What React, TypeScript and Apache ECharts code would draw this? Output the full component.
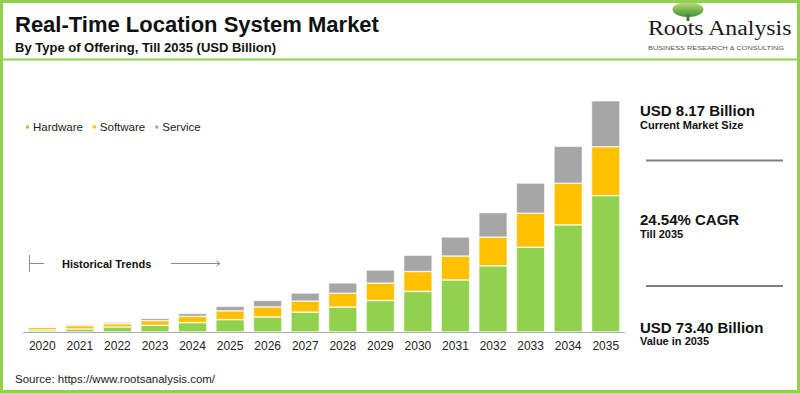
import React, { useEffect, useRef } from "react";
import * as echarts from "echarts";

const years = ["2020","2021","2022","2023","2024","2025","2026","2027","2028","2029","2030","2031","2032","2033","2034","2035"];
const hardware = [0.6, 0.95, 1.6, 2.1, 2.95, 3.9, 4.75, 6.3, 7.9, 10.0, 12.9, 16.5, 21.0, 26.9, 34.0, 43.25];
const software = [0.85, 1.05, 1.0, 1.5, 2.0, 2.8, 3.2, 3.5, 4.4, 5.5, 6.3, 7.6, 9.1, 10.8, 13.2, 15.55];
const service = [0.2, 0.4, 0.55, 0.75, 0.95, 1.47, 2.1, 2.6, 3.3, 4.2, 5.2, 6.1, 7.8, 9.6, 11.8, 14.6];
const seriesNames = ["Hardware", "Software", "Service"];
const colors = ["#92D050", "#FFC000", "#A6A6A6"];

const SANS = '"Liberation Sans", Arial, sans-serif';

export default function App() {
  const ref = useRef<HTMLDivElement>(null);
  useEffect(() => {
    if (!ref.current) return;
    const chart = echarts.init(ref.current, null, { renderer: "svg" });
    const dataSets = [hardware, software, service];
    const txt = (x: number, y: number, text: string, size: number, bold = true, color = "#111", extra: any = {}) => ({
      type: "text",
      x,
      y,
      ...extra,
      style: {
        text,
        fontSize: size,
        fontWeight: bold ? "bold" : "normal",
        fontFamily: SANS,
        fill: color,
        verticalAlign: "middle",
        align: "left",
      },
    });
    chart.setOption({
      animation: false,
      backgroundColor: "#ffffff",
      grid: { left: 23.5, right: 175.5, top: 80, bottom: 61, containLabel: false },
      legend: {
        data: seriesNames,
        left: 19,
        top: 116,
        icon: "rect",
        itemWidth: 5,
        itemHeight: 5,
        itemGap: 8,
        textStyle: { fontSize: 11.5, color: "#222", fontFamily: SANS, padding: [0, 0, 0, -2] },
      },
      xAxis: {
        type: "category",
        data: years,
        axisLine: { lineStyle: { color: "#A6A6A6", width: 1 } },
        axisTick: { show: false },
        axisLabel: { fontSize: 12, color: "#222", fontFamily: SANS, margin: 8 },
      },
      yAxis: {
        type: "value",
        min: 0,
        max: 80,
        show: false,
        splitLine: { show: false },
      },
      series: seriesNames.map((name, i) => ({
        name,
        type: "bar",
        stack: "total",
        barWidth: 28.5,
        data: dataSets[i],
        itemStyle: { color: colors[i], borderColor: "#ffffff", borderWidth: 0.6 },
      })),
      graphic: [
        // frame
        { type: "rect", shape: { x: 1.5, y: 1.5, width: 797, height: 390 }, style: { fill: "none", stroke: "#92D050", lineWidth: 3 }, z: 100 },
        { type: "line", shape: { x1: 0, y1: 59.5, x2: 800, y2: 59.5 }, style: { stroke: "#92D050", lineWidth: 2 }, z: 100 },
        // titles
        txt(15, 24.5, "Real-Time Location System Market", 22),
        txt(15, 47.5, "By Type of Offering, Till 2035 (USD Billion)", 13),
        txt(15, 379, "Source: https://www.rootsanalysis.com/", 11.5, false, "#222"),
        // logo
        {
          type: "ellipse",
          shape: { cx: 688, cy: 9.5, rx: 15.5, ry: 7.5 },
          style: {
            fill: new echarts.graphic.LinearGradient(0, 0, 0, 1, [
              { offset: 0, color: "#C2E07A" },
              { offset: 1, color: "#3E8E2E" },
            ]),
          },
        },
        { type: "rect", shape: { x: 686.5, y: 15, width: 3, height: 6 }, style: { fill: "#5A6E3A" } },
        {
          type: "text",
          x: 648,
          y: 28,
          style: { text: "Roots Analysis", fontSize: 20, fontFamily: '"Liberation Serif", "Times New Roman", serif', fill: "#1a1a1a", verticalAlign: "middle", align: "left" },
          scaleX: 1.19,
        },
        {
          type: "text",
          x: 648,
          y: 48,
          style: { text: "BUSINESS RESEARCH & CONSULTING", fontSize: 5.5, fontFamily: SANS, fill: "#555", verticalAlign: "middle", align: "left" },
          scaleX: 1.33,
        },
        // historical trends
        { type: "line", shape: { x1: 29.5, y1: 255, x2: 29.5, y2: 272 }, style: { stroke: "#8c8c8c", lineWidth: 1 } },
        { type: "line", shape: { x1: 29.5, y1: 263.5, x2: 44, y2: 263.5 }, style: { stroke: "#8c8c8c", lineWidth: 1 } },
        txt(62, 263.5, "Historical Trends", 11),
        { type: "line", shape: { x1: 171, y1: 263.5, x2: 220, y2: 263.5 }, style: { stroke: "#8c8c8c", lineWidth: 1 } },
        { type: "polyline", shape: { points: [[216.5, 261], [220, 263.5], [216.5, 266]] }, style: { stroke: "#8c8c8c", lineWidth: 1, fill: "none" } },
        // right panel
        txt(640, 110, "USD 8.17 Billion", 15),
        txt(640, 124.5, "Current Market Size", 11),
        { type: "line", shape: { x1: 646, y1: 160.5, x2: 783, y2: 160.5 }, style: { stroke: "#7f7f7f", lineWidth: 2 } },
        txt(640, 219, "24.54% CAGR", 15),
        txt(640, 234, "Till 2035", 11),
        { type: "line", shape: { x1: 646, y1: 286, x2: 783, y2: 286 }, style: { stroke: "#7f7f7f", lineWidth: 2 } },
        txt(640, 327.3, "USD 73.40 Billion", 15),
        txt(640, 341.3, "Value in 2035", 11),
      ],
    });
    return () => chart.dispose();
  }, []);
  return <div ref={ref} style={{ position: "absolute", left: 0, top: 0, width: 800, height: 393 }} />;
}
